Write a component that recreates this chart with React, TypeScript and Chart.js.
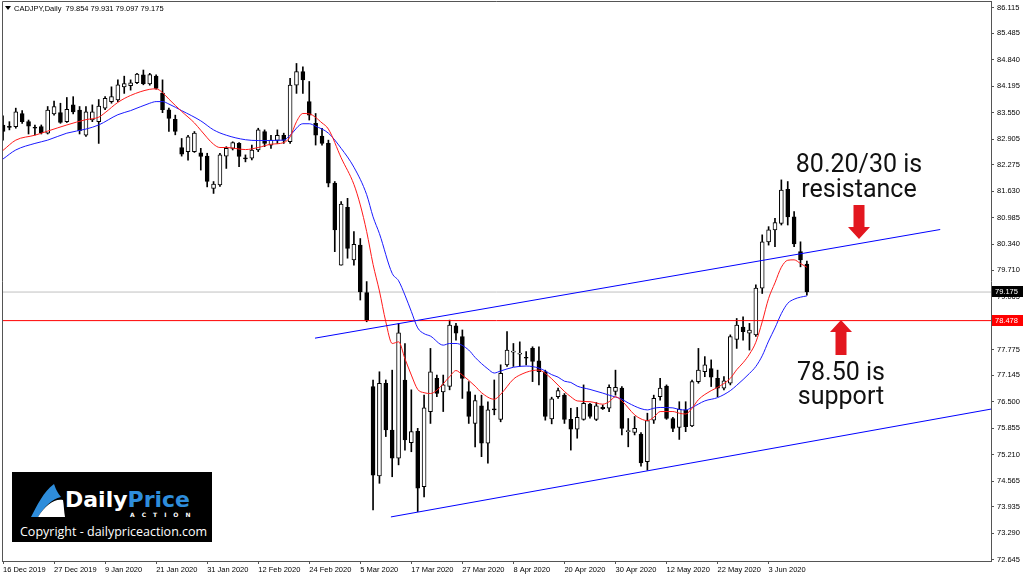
import React, { useEffect, useRef } from "react";
import { Chart, registerables } from "chart.js";

Chart.register(...registerables);

// ---------- data (bar index 0 = 16 Dec 2019, one bar per trading day) ----------
const OPEN = [
  83.25, 83.21, 83.21, 83.53, 83.33, 83.19, 83.21, 83.05, 83.52, 83.55,
  83.33, 83.74, 83.61, 83.0, 83.37, 83.33, 83.66, 83.82, 83.86, 84.18,
  84.21, 84.28, 84.47, 84.25, 84.44, 84.03, 83.62, 83.39, 82.7, 82.6,
  82.6, 82.57, 82.49, 81.7, 81.79, 82.49, 82.68, 82.8, 82.45, 82.44,
  82.64, 83.09, 82.76, 82.87, 83.0, 82.84, 84.22, 84.55, 83.82, 83.29,
  82.98, 82.8, 81.83, 79.83, 81.24, 79.96, 80.32, 79.16, 76.87, 74.69,
  76.95, 75.81, 75.12, 77.03, 75.5, 75.78, 74.43, 76.26, 77.07, 76.74,
  76.87, 78.35, 78.09, 76.75, 75.97, 76.4, 75.49, 76.32, 76.07, 77.4,
  77.71, 77.66, 77.57, 77.8, 77.5, 77.23, 76.08, 76.62, 76.66, 76.07,
  75.83, 76.07, 76.44, 76.07, 76.36, 76.34, 76.75, 76.83, 75.77, 75.75,
  75.71, 75.04, 76.05, 76.62, 76.88, 76.09, 75.87, 76.3, 75.91, 76.99,
  77.23, 77.31, 77.07, 76.83, 76.95, 78.02, 78.32, 78.17, 78.13, 79.27,
  80.4, 80.69, 80.85, 81.68, 81.01, 80.16, 79.854,
];
const HIGH = [
  83.47, 83.33, 83.66, 83.6, 83.37, 83.25, 83.25, 83.7, 83.83, 83.78,
  83.92, 83.94, 83.7, 83.7, 83.74, 83.87, 83.94, 84.18, 84.35, 84.44,
  84.35, 84.51, 84.59, 84.51, 84.47, 84.35, 83.66, 83.49, 82.92, 83.0,
  83.09, 82.68, 82.56, 81.87, 82.56, 82.72, 82.84, 82.82, 82.52, 82.76,
  83.17, 83.13, 83.0, 83.13, 83.05, 84.39, 84.75, 84.67, 84.31, 83.53,
  83.17, 82.88, 81.87, 81.38, 81.46, 80.65, 80.48, 79.43, 77.03, 77.23,
  77.03, 77.27, 78.41, 77.92, 76.79, 75.85, 76.66, 77.8, 77.15, 77.15,
  78.49, 78.41, 78.25, 76.99, 76.66, 76.66, 76.5, 77.03, 77.4, 78.21,
  77.92, 77.96, 77.72, 77.84, 77.84, 77.27, 76.61, 76.83, 76.7, 76.34,
  76.36, 76.91, 76.46, 76.48, 76.42, 76.91, 77.27, 76.87, 76.09, 76.14,
  75.75, 76.22, 76.66, 77.07, 76.91, 76.12, 76.5, 76.5, 77.03, 77.8,
  77.6, 77.52, 77.27, 77.11, 78.13, 78.53, 78.57, 78.41, 79.35, 80.57,
  80.77, 80.97, 81.91, 81.87, 81.14, 80.4, 79.931,
];
const LOW = [
  82.88, 83.13, 83.17, 83.29, 83.03, 83.01, 83.03, 83.03, 83.49, 83.29,
  83.31, 83.52, 83.03, 82.97, 83.33, 82.8, 83.62, 83.78, 83.82, 84.02,
  84.1, 84.26, 84.23, 84.22, 84.12, 83.55, 83.09, 83.01, 82.49, 82.39,
  82.58, 82.15, 81.74, 81.58, 81.75, 82.19, 82.64, 82.23, 82.35, 82.4,
  82.6, 82.72, 82.68, 82.8, 82.8, 82.8, 84.02, 84.02, 83.37, 82.76,
  82.76, 81.74, 80.16, 79.83, 80.0, 79.83, 78.98, 78.45, 73.86, 74.51,
  75.65, 74.67, 74.96, 75.32, 75.28, 73.82, 74.18, 75.97, 76.62, 76.26,
  76.79, 78.0, 76.58, 75.97, 75.4, 75.16, 75.0, 76.18, 76.01, 77.36,
  77.36, 77.36, 77.4, 76.99, 76.91, 76.05, 75.96, 76.58, 75.97, 75.32,
  75.61, 76.05, 76.1, 76.04, 76.31, 76.26, 76.66, 75.69, 75.4, 75.69,
  74.93, 74.83, 75.97, 76.54, 76.07, 75.77, 75.58, 75.77, 75.89, 76.95,
  77.11, 76.87, 76.62, 76.79, 76.91, 77.8, 78.0, 77.76, 78.09, 79.14,
  80.32, 80.28, 80.81, 80.81, 80.28, 79.79, 79.097,
];
const CLOSE = [
  83.09, 83.19, 83.57, 83.33, 83.22, 83.17, 83.06, 83.61, 83.7, 83.31,
  83.63, 83.57, 83.11, 83.57, 83.57, 83.71, 83.9, 83.94, 84.23, 84.26,
  84.28, 84.49, 84.26, 84.48, 84.14, 83.62, 83.41, 83.09, 82.54, 82.96,
  83.05, 82.48, 81.87, 81.81, 82.52, 82.68, 82.82, 82.48, 82.42, 82.64,
  83.13, 82.8, 82.88, 83.0, 82.87, 84.22, 84.55, 84.35, 83.49, 83.0,
  82.8, 81.83, 80.69, 81.32, 80.24, 80.34, 79.18, 78.49, 74.71, 76.95,
  75.81, 75.12, 78.18, 75.57, 75.77, 74.39, 76.35, 77.23, 76.7, 76.91,
  78.37, 78.17, 77.07, 76.14, 76.53, 75.49, 76.3, 76.3, 77.19, 77.76,
  77.73, 77.68, 77.56, 77.48, 77.23, 76.14, 76.57, 76.77, 76.07, 75.83,
  76.12, 76.46, 76.14, 76.4, 76.33, 76.85, 76.85, 75.85, 75.78, 75.85,
  75.01, 76.04, 76.58, 76.83, 76.09, 75.85, 76.32, 75.89, 76.99, 77.27,
  77.4, 77.1, 76.83, 77.01, 78.09, 78.37, 78.21, 78.25, 79.27, 80.4,
  80.69, 80.87, 81.66, 81.01, 80.35, 79.96, 79.175,
];

// moving averages: [bar index, price]
const RED_MA = [
  [0, 82.63], [2, 82.88], [5, 83.0], [7, 83.1], [10, 83.25], [13, 83.38], [15, 83.44], [16, 83.55],
  [18, 83.8], [20, 83.97], [23, 84.12], [24, 84.13], [25, 84.04], [26, 83.88], [28, 83.58], [30, 83.3],
  [31, 83.12], [33, 82.78], [34, 82.7], [35, 82.7], [38, 82.65], [40, 82.7], [42, 82.78], [44, 82.82],
  [45, 82.96], [46, 83.33], [47, 83.53], [48, 83.52], [50, 83.3], [51, 83.15], [53, 82.45], [55, 81.8],
  [56, 81.3], [57, 80.65], [58, 79.85], [59, 79.2], [60, 78.45], [61, 77.92], [62, 77.96], [63, 77.55],
  [64, 77.15], [65, 76.8], [66, 76.72], [67, 76.7], [68, 76.78], [70, 77.11], [71, 77.26], [72, 77.15],
  [74, 76.88], [75, 76.72], [77, 76.56], [78, 76.68], [80, 77.05], [81, 77.15], [83, 77.26], [84, 77.27],
  [85, 77.19], [86, 77.06], [88, 76.75], [89, 76.62], [90, 76.52], [92, 76.5], [94, 76.44], [95, 76.5],
  [96, 76.62], [97, 76.52], [99, 76.18], [100, 76.08], [101, 76.04], [102, 76.12], [103, 76.26], [105, 76.26],
  [106, 76.22], [107, 76.2], [108, 76.34], [109, 76.55], [111, 76.77], [112, 76.85], [114, 77.07], [115, 77.28],
  [116, 77.45], [117, 77.66], [118, 77.95], [119, 78.45], [120, 79.02], [121, 79.4], [122, 79.78], [123, 79.95],
  [124, 79.96], [125, 79.87], [126, 79.78],
];
const BLUE_MA = [
  [0, 82.42], [2, 82.64], [5, 82.8], [7, 82.88], [10, 83.05], [13, 83.15], [15, 83.25], [18, 83.5],
  [20, 83.6], [23, 83.78], [24, 83.82], [25, 83.82], [26, 83.76], [28, 83.6], [31, 83.35], [33, 83.13],
  [35, 83.0], [38, 82.89], [40, 82.87], [44, 82.88], [45, 83.0], [47, 83.28], [48, 83.28], [49, 83.22],
  [51, 83.05], [53, 82.68], [55, 82.22], [57, 81.55], [58, 81.01], [59, 80.6], [61, 79.63], [62, 79.45],
  [63, 79.1], [64, 78.7], [65, 78.3], [66, 78.16], [67, 78.1], [69, 77.88], [70, 77.92], [71, 77.92],
  [73, 77.76], [74, 77.58], [76, 77.3], [77, 77.2], [78, 77.25], [80, 77.34], [82, 77.37], [84, 77.32],
  [85, 77.25], [86, 77.16], [87, 77.1], [88, 77.0], [89, 76.97], [90, 76.88], [92, 76.8], [94, 76.71],
  [95, 76.66], [97, 76.56], [98, 76.47], [100, 76.33], [101, 76.3], [102, 76.34], [103, 76.36], [105, 76.35],
  [106, 76.31], [107, 76.3], [108, 76.36], [110, 76.52], [112, 76.6], [114, 76.77], [115, 76.9], [117, 77.19],
  [118, 77.36], [119, 77.62], [120, 77.98], [121, 78.3], [122, 78.65], [123, 78.9], [124, 79.0], [125, 79.05],
  [126, 79.08],
];

// trend lines: [bar index, price]
const UPPER_TREND = [[48.9, 78.05], [146.9, 80.7]];
const LOWER_TREND = [[60.8, 73.69], [154.86, 76.32]];

const CURRENT_PRICE = 79.175;
const SUPPORT_LINE = 78.478;

const DATE_TICKS = [
  "16 Dec 2019", "27 Dec 2019", "9 Jan 2020", "21 Jan 2020", "31 Jan 2020", "12 Feb 2020",
  "24 Feb 2020", "5 Mar 2020", "17 Mar 2020", "27 Mar 2020", "8 Apr 2020", "20 Apr 2020",
  "30 Apr 2020", "12 May 2020", "22 May 2020", "3 Jun 2020",
];
const BARS_PER_DATE_TICK = 8;

const PRICE_TICKS = [
  86.115, 85.485, 84.84, 84.195, 83.55, 82.905, 82.275, 81.63, 80.985, 80.34, 79.71,
  79.065, 78.42, 77.775, 77.145, 76.5, 75.855, 75.21, 74.565, 73.935, 73.29, 72.645,
];

const HEADER_TEXT = "CADJPY,Daily  79.854 79.931 79.097 79.175";
const RESISTANCE_TEXT = ["80.20/30 is", "resistance"];
const SUPPORT_TEXT = ["78.50 is", "support"];

// ---------- layout ----------
const X_MIN = -0.16;
const X_MAX = 154.86;
const Y_MIN = 72.615;
const Y_MAX = 86.2735;
const AXIS_FONT = { family: '"Liberation Sans", Arial, sans-serif', size: 7.5 };
const FRAME = "#555555";
const ARROW_RED = "#e3171f";

function drawPriceBox(ctx: any, x: number, y: number, text: string, bg: string) {
  ctx.fillStyle = bg;
  ctx.fillRect(x + 1, Math.round(y) - 6, 31, 11);
  ctx.fillStyle = "#ffffff";
  ctx.font = '7.5px "Liberation Sans", Arial, sans-serif';
  ctx.textAlign = "left";
  ctx.textBaseline = "middle";
  ctx.fillText(text, x + 4, Math.round(y));
}

function drawArrow(ctx: any, cx: number, tail: number, tip: number) {
  const dir = tip > tail ? 1 : -1;
  const headLen = 12;
  const base = tip - dir * headLen;
  ctx.fillStyle = ARROW_RED;
  ctx.beginPath();
  ctx.moveTo(cx - 5.5, tail);
  ctx.lineTo(cx + 5.5, tail);
  ctx.lineTo(cx + 5.5, base);
  ctx.lineTo(cx + 11, base);
  ctx.lineTo(cx, tip);
  ctx.lineTo(cx - 11, base);
  ctx.lineTo(cx - 5.5, base);
  ctx.closePath();
  ctx.fill();
}

const overlayPlugin = {
  id: "mtOverlay",
  afterDraw(chart: any) {
    const { ctx, chartArea: a, scales } = chart;
    const y = scales.y;
    ctx.save();
    // frame (left & top)
    ctx.strokeStyle = FRAME;
    ctx.lineWidth = 1;
    ctx.beginPath();
    ctx.moveTo(a.left + 0.5, a.bottom);
    ctx.lineTo(a.left + 0.5, a.top + 0.5);
    ctx.lineTo(a.right, a.top + 0.5);
    ctx.stroke();
    // header
    ctx.fillStyle = "#000";
    ctx.beginPath();
    ctx.moveTo(5, 6);
    ctx.lineTo(11, 6);
    ctx.lineTo(8, 10);
    ctx.closePath();
    ctx.fill();
    ctx.font = '7.5px "Liberation Sans", Arial, sans-serif';
    ctx.textAlign = "left";
    ctx.textBaseline = "middle";
    ctx.fillText(HEADER_TEXT, 14, 8.5);
    // price boxes on the axis
    drawPriceBox(ctx, a.right, y.getPixelForValue(CURRENT_PRICE), CURRENT_PRICE.toFixed(3), "#000000");
    drawPriceBox(ctx, a.right, y.getPixelForValue(SUPPORT_LINE), SUPPORT_LINE.toFixed(3), "#ff0000");
    // annotations
    ctx.fillStyle = "#111";
    ctx.font = '25px Roboto, "Open Sans", sans-serif';
    ctx.textAlign = "center";
    ctx.textBaseline = "alphabetic";
    ctx.fillText(RESISTANCE_TEXT[0], 859, 172);
    ctx.fillText(RESISTANCE_TEXT[1], 859, 197);
    ctx.fillText(SUPPORT_TEXT[0], 841, 380);
    ctx.fillText(SUPPORT_TEXT[1], 841, 404);
    drawArrow(ctx, 859, 205, 239);
    drawArrow(ctx, 841, 355, 320);
    ctx.restore();
  },
};

export default function App() {
  const ref = useRef<HTMLCanvasElement | null>(null);

  useEffect(() => {
    document.body.style.margin = "0";
    const canvas = ref.current;
    if (!canvas) return;

    const bodies = OPEN.map((o, i) => ({ x: i, y: [Math.min(o, CLOSE[i]), Math.max(o, CLOSE[i])] }));
    const wicks = OPEN.map((_, i) => ({ x: i, y: [LOW[i], HIGH[i]] }));
    const bodyFill = OPEN.map((o, i) => (CLOSE[i] >= o ? "#ffffff" : "#000000"));
    const pts = (arr: number[][]) => arr.map(([x, y]) => ({ x, y }));
    const line = (data: any, color: string, order: number, extra: any = {}) => ({
      type: "line",
      data,
      borderColor: color,
      borderWidth: 1,
      pointRadius: 0,
      fill: false,
      order,
      ...extra,
    });

    const chart = new Chart(canvas, {
      type: "bar",
      data: {
        datasets: [
          line([{ x: X_MIN, y: CURRENT_PRICE }, { x: X_MAX, y: CURRENT_PRICE }], "#c0c0c0", 20),
          {
            type: "bar",
            data: wicks,
            backgroundColor: "#000000",
            borderWidth: 0,
            barThickness: 1,
            grouped: false,
            order: 10,
          },
          {
            type: "bar",
            data: bodies,
            backgroundColor: bodyFill,
            borderColor: "#000000",
            borderWidth: 1,
            borderSkipped: false,
            barThickness: 4,
            minBarLength: 1,
            grouped: false,
            order: 9,
          },
          line(pts(RED_MA), "#ff1a1a", 3, { cubicInterpolationMode: "monotone" }),
          line(pts(BLUE_MA), "#1a1aff", 4, { cubicInterpolationMode: "monotone" }),
          line([{ x: X_MIN, y: SUPPORT_LINE }, { x: X_MAX, y: SUPPORT_LINE }], "#ff0000", 2),
          line(pts(UPPER_TREND), "#0000ff", 1),
          line(pts(LOWER_TREND), "#0000ff", 1),
        ],
      } as any,
      options: {
        responsive: false,
        maintainAspectRatio: false,
        animation: false,
        events: [],
        layout: { padding: { left: 2, top: 1, right: 0, bottom: 0 }, autoPadding: false },
        plugins: { legend: { display: false }, tooltip: { enabled: false }, title: { display: false } },
        scales: {
          x: {
            type: "linear",
            min: X_MIN,
            max: X_MAX,
            bounds: "data",
            offset: false,
            afterBuildTicks: (s: any) => {
              s.ticks = DATE_TICKS.map((_, k) => ({ value: k * BARS_PER_DATE_TICK }));
            },
            afterFit: (s: any) => {
              s.height = 17;
              s.paddingLeft = 0;
              s.paddingRight = 0;
            },
            grid: { drawOnChartArea: false, drawTicks: true, tickLength: 3, tickColor: FRAME, offset: false },
            border: { display: true, color: FRAME, width: 1 },
            ticks: {
              align: "start",
              padding: 1,
              autoSkip: false,
              maxRotation: 0,
              minRotation: 0,
              color: "#000",
              font: AXIS_FONT,
              callback: (v: any) => DATE_TICKS[Math.round(Number(v) / BARS_PER_DATE_TICK)] ?? "",
            },
          },
          y: {
            type: "linear",
            position: "right",
            min: Y_MIN,
            max: Y_MAX,
            bounds: "data",
            afterBuildTicks: (s: any) => {
              s.ticks = PRICE_TICKS.map((v) => ({ value: v }));
            },
            afterFit: (s: any) => {
              s.width = 33;
              s.paddingTop = 0;
              s.paddingBottom = 0;
            },
            grid: { drawOnChartArea: false, drawTicks: true, tickLength: 3, tickColor: FRAME },
            border: { display: true, color: FRAME, width: 1 },
            ticks: {
              padding: 3,
              autoSkip: false,
              color: "#000",
              font: AXIS_FONT,
              callback: (v: any) => Number(v).toFixed(3),
            },
          },
        },
      } as any,
      plugins: [overlayPlugin],
    });
    return () => chart.destroy();
  }, []);

  return (
    <div style={{ position: "relative", width: 1024, height: 578, background: "#ffffff", overflow: "hidden" }}>
      <canvas ref={ref} width={1024} height={578} style={{ display: "block" }} />
      <div
        style={{
          position: "absolute",
          left: 12,
          top: 472,
          width: 200,
          height: 70,
          background: "#000",
          overflow: "hidden",
        }}
      >
        <svg style={{ position: "absolute", left: 17, top: 10 }} width="38" height="38" viewBox="0 0 38 38">
          <path d="M2 35 C8 24 14 10 25 2 C27 8 29 11 32 15 C23 17 15 25 9 35 Z" fill="#2e8ddb" />
          <path d="M9 35 C16 23 26 16 34 18 C35 24 35 30 36 35 Z" fill="#ffffff" />
        </svg>
        <div
          style={{
            position: "absolute",
            left: 53,
            top: 17,
            font: 'bold 22px "DejaVu Sans", sans-serif',
            lineHeight: "22px",
            whiteSpace: "nowrap",
          }}
        >
          <span style={{ color: "#ffffff" }}>Daily</span>
          <span style={{ color: "#2e8ddb" }}>Price</span>
        </div>
        <div
          style={{
            position: "absolute",
            left: 118,
            top: 40,
            font: 'bold 6px "DejaVu Sans", sans-serif',
            lineHeight: "6px",
            letterSpacing: "7px",
            color: "#ffffff",
            whiteSpace: "nowrap",
          }}
        >
          ACTION
        </div>
        <div
          style={{
            position: "absolute",
            left: 8,
            top: 51,
            font: '12.5px "Open Sans", sans-serif',
            lineHeight: "17px",
            color: "#ffffff",
            whiteSpace: "nowrap",
          }}
        >
          Copyright - dailypriceaction.com
        </div>
      </div>
    </div>
  );
}
